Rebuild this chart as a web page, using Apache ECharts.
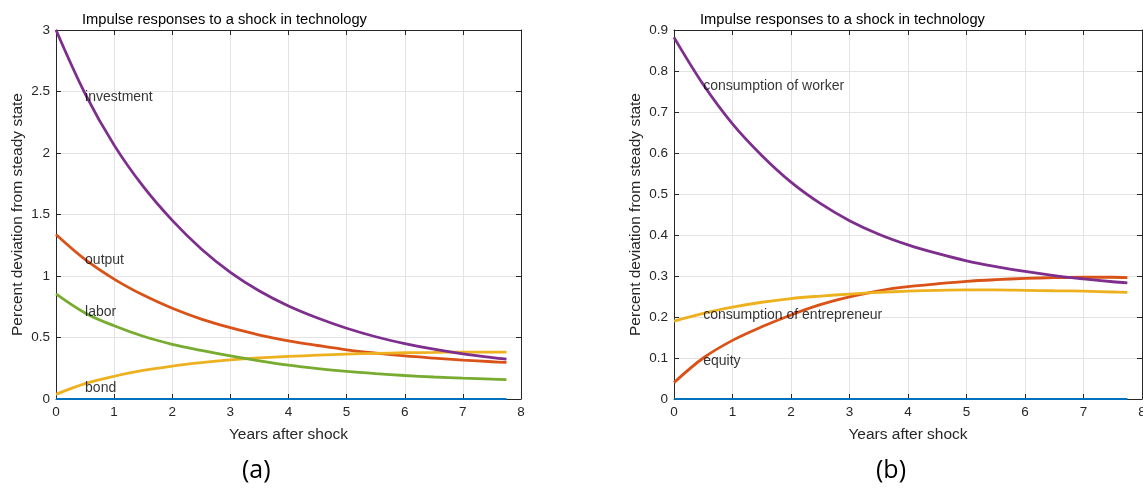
<!DOCTYPE html>
<html>
<head>
<meta charset="utf-8">
<script src="https://cdn.jsdelivr.net/npm/echarts@6/dist/echarts.min.js"></script>
<style>
html,body{margin:0;padding:0;background:#fff;}
#main{width:1143px;height:491px;}
</style>
</head>
<body>
<div id="main"></div>
<script>
// Years after shock
const years = [0, 0.5, 1, 1.5, 2, 2.5, 3, 3.5, 4, 4.5, 5, 5.5, 6, 6.5, 7, 7.5, 7.75];

// Panel (a)
const investment = [3.0, 2.483, 2.064, 1.728, 1.452, 1.22, 1.03, 0.878, 0.756, 0.658, 0.575, 0.506, 0.451, 0.405, 0.367, 0.337, 0.325];
const output     = [1.338, 1.135, 0.975, 0.845, 0.738, 0.65, 0.58, 0.52, 0.473, 0.435, 0.40, 0.373, 0.35, 0.332, 0.316, 0.303, 0.297];
const labor      = [0.855, 0.70, 0.595, 0.51, 0.445, 0.395, 0.35, 0.31, 0.275, 0.247, 0.224, 0.206, 0.191, 0.179, 0.169, 0.161, 0.157];
const bond       = [0.038, 0.125, 0.185, 0.232, 0.268, 0.296, 0.318, 0.334, 0.346, 0.356, 0.365, 0.371, 0.376, 0.379, 0.381, 0.381, 0.381];
const zeroLine   = [0, 0, 0, 0, 0, 0, 0, 0, 0, 0, 0, 0, 0, 0, 0, 0, 0];

// Panel (b)
const worker       = [0.882, 0.767, 0.671, 0.594, 0.529, 0.477, 0.435, 0.402, 0.376, 0.355, 0.337, 0.323, 0.311, 0.301, 0.293, 0.286, 0.283];
const equity       = [0.04, 0.1, 0.143, 0.176, 0.205, 0.23, 0.249, 0.264, 0.274, 0.281, 0.287, 0.291, 0.294, 0.296, 0.297, 0.297, 0.296];
const entrepreneur = [0.19, 0.209, 0.224, 0.236, 0.245, 0.251, 0.256, 0.26, 0.263, 0.265, 0.266, 0.266, 0.265, 0.264, 0.263, 0.261, 0.26];

// Text annotations [x, y, text]
const notesA = [[0.5, 2.455, 'investment'], [0.5, 1.13, 'output'], [0.5, 0.71, 'labor'], [0.5, 0.09, 'bond']];
const notesB = [[0.5, 0.762, 'consumption of worker'], [0.5, 0.205, 'consumption of entrepreneur'], [0.5, 0.092, 'equity']];

const titleText = 'Impulse responses to a shock in technology';
const xName = 'Years after shock';
const yName = 'Percent deviation from steady state';
const panelLabels = ['(a)', '(b)'];

const C = {blue:'#0072BD', orange:'#D95319', yellow:'#EDB120', purple:'#7E2F8E', green:'#77AC30'};
const axisCol = '#262626';
const gridCol = '#e3e3e3';
const FONT = '"Liberation Sans", Arial, sans-serif';

function pairs(ys){ return years.map((x,i)=>[x, ys[i]]); }

const boxLine = {show:true, onZero:false, lineStyle:{color:axisCol, width:1}};
const inTick = {show:true, inside:true, length:5, lineStyle:{color:axisCol}};

function mainX(g){
  return {gridIndex:g, type:'value', min:0, max:8, interval:1, position:'bottom',
    name:xName, nameLocation:'middle', nameGap:28,
    nameTextStyle:{fontSize:15.5, color:axisCol, fontFamily:FONT},
    axisLine:boxLine, axisTick:inTick,
    axisLabel:{fontSize:13.5, color:axisCol, fontFamily:FONT, margin:6},
    splitLine:{show:true, lineStyle:{color:gridCol, width:1}}};
}
function topX(g){
  return {gridIndex:g, type:'value', min:0, max:8, interval:1, position:'top',
    axisLine:boxLine, axisTick:inTick, axisLabel:{show:false}, splitLine:{show:false}};
}
function mainY(g, max, interval){
  return {gridIndex:g, type:'value', min:0, max:max, interval:interval, position:'left',
    name:yName, nameLocation:'middle', nameGap:30,
    nameTextStyle:{fontSize:15.5, color:axisCol, fontFamily:FONT},
    axisLine:boxLine, axisTick:inTick,
    axisLabel:{fontSize:13.5, color:axisCol, fontFamily:FONT, margin:6,
      formatter:v=>String(Math.round(v*100)/100)},
    splitLine:{show:true, lineStyle:{color:gridCol, width:1}}};
}
function rightY(g, max, interval){
  return {gridIndex:g, type:'value', min:0, max:max, interval:interval, position:'right',
    axisLine:boxLine, axisTick:inTick, axisLabel:{show:false}, splitLine:{show:false}};
}
function line(ax, ys, color, w){
  return {type:'line', xAxisIndex:ax, yAxisIndex:ax, data:pairs(ys), smooth:0.35,
    showSymbol:false, symbol:'none', lineStyle:{color:color, width:w||2.8}, silent:true, z:3};
}
function notes(ax, arr){
  return {type:'scatter', xAxisIndex:ax, yAxisIndex:ax, symbolSize:0, silent:true, z:5,
    data:arr.map(n=>({value:[n[0], n[1]], name:n[2]})),
    label:{show:true, position:'right', distance:0, formatter:p=>p.name,
      fontSize:14, color:'#000', fontFamily:FONT}};
}

const chart = echarts.init(document.getElementById('main'), null, {renderer:'canvas'});
chart.setOption({
  backgroundColor:'#fff',
  animation:false,
  title:[
    {text:titleText, left:77, top:7, textStyle:{fontSize:14.7, fontWeight:'normal', color:'#000', fontFamily:FONT}},
    {text:titleText, left:695, top:7, textStyle:{fontSize:14.7, fontWeight:'normal', color:'#000', fontFamily:FONT}}
  ],
  grid:[
    {left:56, right:622, top:30, bottom:92, containLabel:false, outerBoundsMode:'none'},
    {left:674, right:1, top:30, bottom:92, containLabel:false, outerBoundsMode:'none'}
  ],
  xAxis:[mainX(0), mainX(1), topX(0), topX(1)],
  yAxis:[mainY(0, 3, 0.5), mainY(1, 0.9, 0.1), rightY(0, 3, 0.5), rightY(1, 0.9, 0.1)],
  series:[
    line(0, zeroLine, C.blue, 2),
    line(0, output, C.orange),
    line(0, bond, C.yellow),
    line(0, investment, C.purple),
    line(0, labor, C.green),
    notes(0, notesA),
    line(1, zeroLine, C.blue, 2),
    line(1, equity, C.orange),
    line(1, entrepreneur, C.yellow),
    line(1, worker, C.purple),
    notes(1, notesB)
  ],
  graphic:[
    {type:'text', left:242, top:458, style:{text:panelLabels[0], fontSize:25, fill:'#000', fontFamily:'"Open Sans", "Noto Sans", sans-serif'}},
    {type:'text', left:876, top:458, style:{text:panelLabels[1], fontSize:25, fill:'#000', fontFamily:'"Open Sans", "Noto Sans", sans-serif'}}
  ]
});
</script>
</body>
</html>
